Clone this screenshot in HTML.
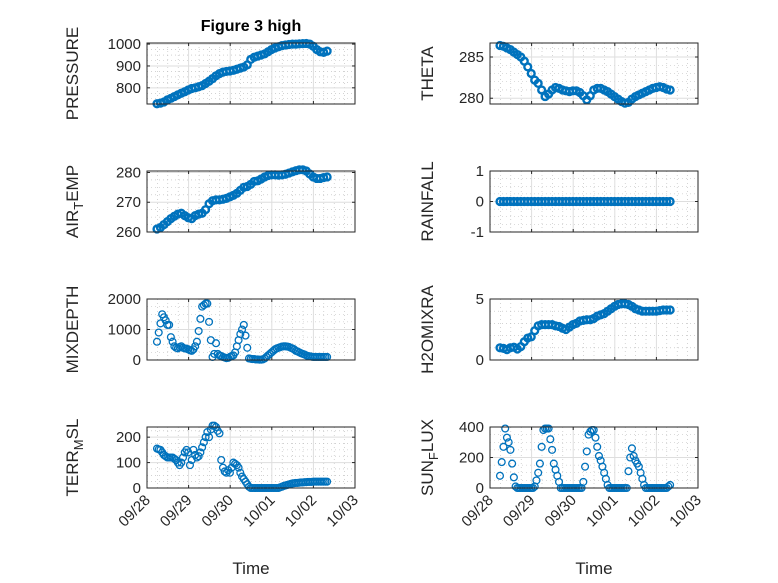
<!DOCTYPE html>
<html><head><meta charset="utf-8"><style>
html,body{margin:0;padding:0;background:#fff;}
svg{display:block;font-family:"Liberation Sans",sans-serif;}
</style></head><body>
<svg id="fig" width="778" height="583" viewBox="0 0 778 583"></svg>
<script>
// ---- data ----
const xTickLabels = ["09/28","09/29","09/30","10/01","10/02","10/03"];
const tStart = 0.24, tEnd = 4.33; // days since 09/28 00:00
const pressure = [727,730,735,745,752,760,768,775,782,790,797,800,805,810,820,830,842,855,865,872,875,877,880,885,890,895,905,930,940,945,950,955,965,975,982,988,993,996,998,1000,1000,1001,1002,1003,1000,990,975,965,962,968];
const theta = [286.4,286.3,286.1,285.9,285.6,285.3,285,284.5,283.8,283,282.2,281.8,281,280.2,280.5,281,281.3,281.2,281,280.9,280.8,280.9,280.9,280.7,280.3,279.8,280.3,281,281.2,281.2,281,280.8,280.5,280.2,279.9,279.6,279.4,279.5,279.9,280.2,280.4,280.6,280.8,281,281.2,281.3,281.4,281.3,281.1,281];
const airTemp = [261,261.5,262.5,263.5,264.5,265.3,266,266.3,265.5,264.8,264.5,265.5,266,266.3,267.5,269.5,270.5,270.8,270.8,271,271.3,271.8,272.3,273,274,275,275.3,276,277,277.2,277.8,278.5,279,279.2,279.2,279.1,279.2,279.4,279.8,280.2,280.6,280.9,280.9,280.5,279.5,278.5,278,278,278.3,278.5];
const rainfall = [0,0,0,0,0,0,0,0,0,0,0,0,0,0,0,0,0,0,0,0,0,0,0,0,0,0,0,0,0,0,0,0,0,0,0,0,0,0,0,0,0,0,0,0,0,0,0,0,0,0];
const mixDepth = [600,900,1200,1500,1400,1300,1150,1150,750,600,450,400,380,420,450,400,380,370,350,320,300,350,450,600,950,1350,1750,1800,1850,1850,1250,650,100,200,550,200,150,130,100,80,60,70,100,130,150,250,450,650,850,1000,1150,800,400,50,40,30,30,20,20,10,10,20,50,100,150,200,250,300,350,380,400,420,440,450,450,440,430,400,380,350,300,280,250,220,200,180,150,130,120,110,100,100,100,100,100,100,100,100,100];
const h2o = [1.0,0.95,0.85,1.0,1.05,0.9,1.1,1.5,1.8,1.9,2.4,2.8,2.9,2.9,2.9,2.9,2.8,2.75,2.6,2.5,2.7,2.9,3.0,3.2,3.25,3.3,3.3,3.4,3.6,3.7,3.8,4.0,4.2,4.4,4.55,4.6,4.6,4.55,4.4,4.2,4.1,4.0,4.0,4.0,4.0,4.0,4.05,4.1,4.1,4.1];
const terrMsl = [155,152,150,140,130,125,120,120,120,120,115,110,100,90,100,120,140,150,140,90,110,150,130,120,125,140,160,180,200,220,200,230,245,245,240,225,215,110,80,65,60,70,60,80,100,95,90,80,60,45,35,25,15,5,0,0,0,0,0,0,0,0,0,0,0,0,0,0,0,0,0,3,5,8,10,12,14,16,18,19,20,20,21,22,22,23,23,24,24,24,25,25,25,25,25,25,25,25,25];
const sunFlux = [80,170,270,390,330,300,250,160,70,10,0,0,0,0,0,0,0,0,0,0,10,50,100,160,270,380,390,390,390,320,250,160,120,80,40,0,0,0,0,0,0,0,0,0,0,0,0,0,40,140,240,350,370,380,380,330,270,210,180,140,100,60,20,0,0,0,0,0,0,0,0,0,0,0,110,200,260,210,180,160,140,100,60,20,0,0,0,0,0,0,0,0,0,0,0,0,0,10,20];

const panels = [
 {name:"pressure",data:pressure,x0:147,y0:43,ymin:726,ymax:1005,ticks:[800,900,1000],minor:25,label:["PRESSURE"]},
 {name:"theta",data:theta,x0:490,y0:43,ymin:279.3,ymax:286.7,ticks:[280,285],minor:1,label:["THETA"]},
 {name:"air-temp",data:airTemp,x0:147,y0:171,ymin:260,ymax:280.5,ticks:[260,270,280],minor:2.5,label:["AIR","T","EMP"]},
 {name:"rainfall",data:rainfall,x0:490,y0:171,ymin:-1,ymax:1,ticks:[-1,0,1],minor:0.25,label:["RAINFALL"]},
 {name:"mixdepth",data:mixDepth,x0:147,y0:299,ymin:0,ymax:2000,ticks:[0,1000,2000],minor:250,label:["MIXDEPTH"]},
 {name:"h2omixra",data:h2o,x0:490,y0:299,ymin:0,ymax:5,ticks:[0,5],minor:1,label:["H2OMIXRA"]},
 {name:"terr-msl",data:terrMsl,x0:147,y0:427,ymin:0,ymax:240,ticks:[0,100,200],minor:25,label:["TERR","M","SL"]},
 {name:"sun-flux",data:sunFlux,x0:490,y0:427,ymin:0,ymax:400,ticks:[0,200,400],minor:50,label:["SUN","F","LUX"]}
];
const W=208,H=61,NS="http://www.w3.org/2000/svg";
const svg=document.getElementById('fig');
function mk(tag,attrs,parent){const e=document.createElementNS(NS,tag);for(const k in attrs)e.setAttribute(k,attrs[k]);(parent||svg).appendChild(e);return e;}

panels.forEach((p,pi)=>{
  const g=mk('g',{});
  
  
  const xs=t=>p.x0+t/5*W;
  const ys=v=>p.y0+H-(v-p.ymin)/(p.ymax-p.ymin)*H;
  mk('rect',{x:p.x0,y:p.y0,width:W,height:H,fill:'#fff'},g);
  for(let t=0.25;t<5;t+=0.25){ if(Math.abs(t-Math.round(t))<1e-6) continue;
    mk('line',{x1:xs(t),x2:xs(t),y1:p.y0,y2:p.y0+H,stroke:'#b8b8b8','stroke-width':0.6,'stroke-dasharray':'1 3'},g);}
  const m0=Math.ceil(p.ymin/p.minor)*p.minor;
  for(let v=m0;v<=p.ymax+1e-9;v+=p.minor){ if(p.ticks.some(tk=>Math.abs(tk-v)<1e-6)) continue;
    mk('line',{x1:p.x0,x2:p.x0+W,y1:ys(v),y2:ys(v),stroke:'#b8b8b8','stroke-width':0.6,'stroke-dasharray':'1 3'},g);}
  for(let d=1;d<5;d++) mk('line',{x1:xs(d),x2:xs(d),y1:p.y0,y2:p.y0+H,stroke:'#dedede','stroke-width':1},g);
  p.ticks.forEach(v=>{ mk('line',{x1:p.x0,x2:p.x0+W,y1:ys(v),y2:ys(v),stroke:'#dedede','stroke-width':1},g);
    mk('line',{x1:p.x0,x2:p.x0+3,y1:ys(v),y2:ys(v),stroke:'#262626'},g);
    mk('line',{x1:p.x0+W-3,x2:p.x0+W,y1:ys(v),y2:ys(v),stroke:'#262626'},g);
    const tl=mk('text',{x:p.x0-6,y:ys(v)+5,'text-anchor':'end','font-size':15,fill:'#262626'},g);
    tl.textContent=String(v);
    
    
  });
  for(let d=0;d<=5;d++){ mk('line',{x1:xs(d),x2:xs(d),y1:p.y0+H-3,y2:p.y0+H,stroke:'#262626'},g);
    mk('line',{x1:xs(d),x2:xs(d),y1:p.y0,y2:p.y0+3,stroke:'#262626'},g);}
  const n=p.data.length;
  const sw = n<80 ? 2.4 : 1.3;
  p.data.forEach((v,i)=>{
    const t=tStart+(tEnd-tStart)*i/(n-1);
    const c=mk('circle',{cx:xs(t),cy:ys(v),r:3.4,fill:'none',stroke:'#0072BD','stroke-width':sw},g);
    
    
  });
  mk('rect',{x:p.x0,y:p.y0,width:W,height:H,fill:'none',stroke:'#262626','stroke-width':1},g);
  const lx=p.x0-(pi%2===0?69:57), ly=p.y0+H/2;
  const yl=mk('text',{x:lx,y:ly,'text-anchor':'middle','font-size':17,fill:'#262626',transform:`rotate(-90 ${lx} ${ly})`},g);
  
  
  p.label.forEach((s,k)=>{const ts=mk('tspan',{},yl);ts.textContent=s;
    if(k===1){ts.setAttribute('dy',5);ts.setAttribute('font-size',13);}
    if(k===2){ts.setAttribute('dy',-5);}});
  if(pi>=6){
    xTickLabels.forEach((s,d)=>{
      const x=xs(d)+4,y=p.y0+H+13;
      const tl=mk('text',{x:x,y:y,'text-anchor':'end','font-size':15,fill:'#262626',transform:`rotate(-45 ${x} ${y})`},g);
      tl.textContent=s;
      
      
    });
    const xl=mk('text',{x:p.x0+W/2,y:574,'text-anchor':'middle','font-size':17,fill:'#262626'},g);
    xl.textContent='Time';
    
    
  }
});
const title=mk('text',{x:251,y:31,'text-anchor':'middle','font-size':16,'font-weight':'bold',fill:'#000'});
title.textContent='Figure 3 high';


</script>
</body></html>
